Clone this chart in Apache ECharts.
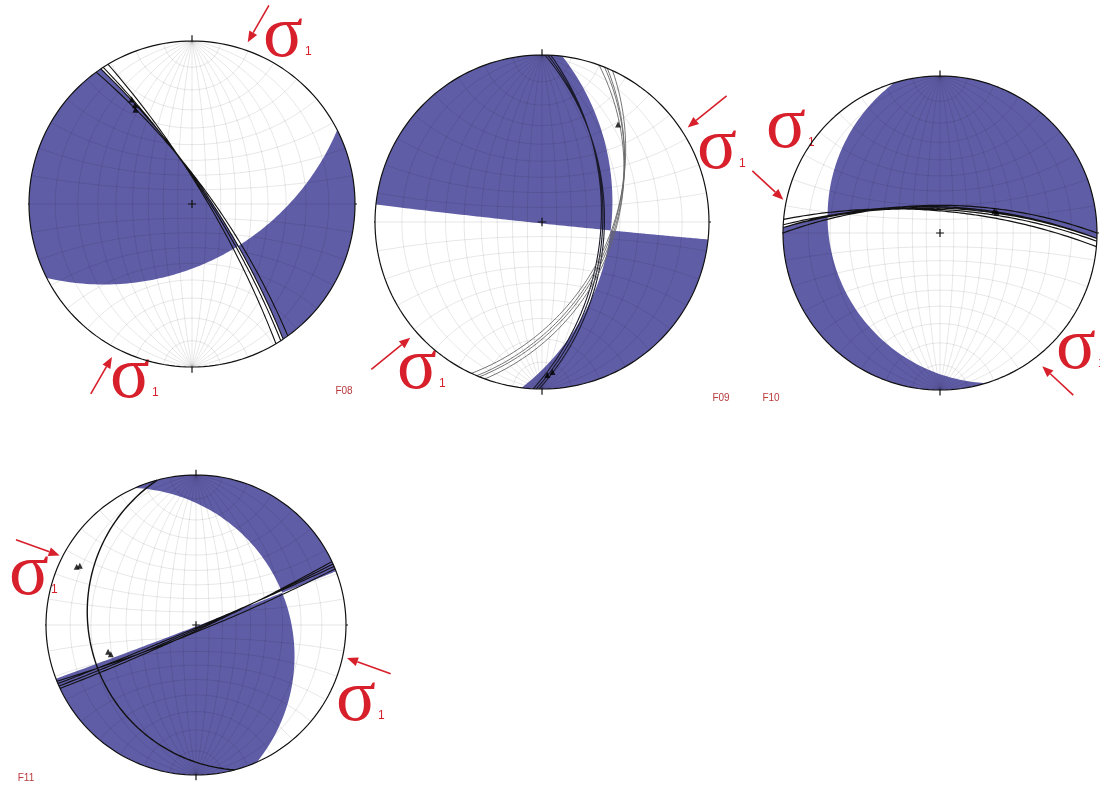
<!DOCTYPE html>
<html>
<head>
<meta charset="UTF-8">
<title>F08 - F11</title>
<script src="https://cdn.jsdelivr.net/npm/echarts/dist/echarts.min.js"></script>
<style>
  body { margin: 0; background: #fff; }
</style>
</head>
<body>
<div id="main" style="width: 1100px; height: 790px;"></div>
<script type="text/javascript">
// ---- data (angles in degrees) ----
var netNames = ['F08', 'F09', 'F10', 'F11'];
// the two planes [dip direction, dip] that bound the shaded dihedra
var nodalPlaneA = [[56, 78], [97, 45], [2, 72], [66, 27]];
var nodalPlaneB = [[153, 50], [186, 89], [253, 20], [159, 89]];
// a line [trend, plunge] that falls inside one shaded dihedron
var shadedProbe = [[270, 20], [315, 20], [0, 10], [45, 10]];
// trend of sigma 1
var sigma1Trend = [30, 51, 313, 290];
// measured fault planes [dip direction, dip]
var faultsF08 = [[54, 77], [56, 78], [57, 79], [59, 80]];
var faultsF09 = [[91, 49], [92, 50], [93, 51]];
var faultsF09b = [[110, 43], [112, 44], [113, 45], [115, 46]];
var faultsF10 = [[0, 70], [2, 71], [2, 72], [3, 73], [5, 74]];
var faultsF11 = [[155, 86], [156, 87], [157, 88], [158, 85]];
var faultsF11b = [[255, 19]];
// striae [trend, plunge]
var striaeF08 = [[330, 17], [330, 20], [329, 22]];
var striaeF09 = [[38, 17], [176, 6], [178, 5]];
var striaeF10 = [[70, 48], [68, 49]];
var striaeF11 = [[251, 28], [253, 27], [296, 7], [297, 8]];

// ---- layout ----
var nets = [
  { cx: 192, cy: 204, r: 163 },
  { cx: 542, cy: 222, r: 167 },
  { cx: 940, cy: 233, r: 157 },
  { cx: 196, cy: 625, r: 150 }
];
var arrowTips = [
  [[19, 1.05], [207.6, 1.06]],
  [[57, 1.04], [228.7, 1.05]],
  [[282, 1.02], [142.5, 1.07]],
  [[297, 1.02], [102.3, 1.03]]
];
var arrowLen = [0.26, 0.3, 0.27, 0.31];
var sigmaPos = [[283, 37], [130, 378], [717, 149], [417, 369], [786, 128], [1076, 349], [29, 575], [356, 701]];
var namePos = [[344, 391], [721, 398], [771, 398], [26, 778]];
var RED = '#d7202b';
var PURPLE = '#605da7';

// ---- spherical helpers ----
function rad(d) { return d * Math.PI / 180; }
function deg(r) { return r * 180 / Math.PI; }
function lineVec(trend, plunge) {
  var t = rad(trend), p = rad(plunge);
  return [Math.cos(p) * Math.sin(t), Math.cos(p) * Math.cos(t), -Math.sin(p)];
}
function dot(a, b) { return a[0] * b[0] + a[1] * b[1] + a[2] * b[2]; }
function cross(a, b) { return [a[1] * b[2] - a[2] * b[1], a[2] * b[0] - a[0] * b[2], a[0] * b[1] - a[1] * b[0]]; }
function unit(a) { var l = Math.sqrt(dot(a, a)); return [a[0] / l, a[1] / l, a[2] / l]; }
function sgn(x) { return x >= 0 ? 1 : -1; }
// lower hemisphere, equal angle (Wulff), unit radius
function project(v) {
  if (v[2] > 0) v = [-v[0], -v[1], -v[2]];
  var k = 1 / (1 - v[2]);
  return [v[0] * k, v[1] * k];
}
function basis(pl) {
  return { s: lineVec(pl[0] - 90, 0), d: lineVec(pl[0], pl[1]), n: lineVec(pl[0] + 180, 90 - pl[1]) };
}
function onPlane(b, t) {
  var c = Math.cos(rad(t)), s = Math.sin(rad(t));
  return [c * b.s[0] + s * b.d[0], c * b.s[1] + s * b.d[1], c * b.s[2] + s * b.d[2]];
}
function greatCircle(pl) {
  var b = basis(pl), pts = [];
  for (var t = 0; t <= 180; t += 2) pts.push(project(onPlane(b, t)));
  return pts;
}
function joinLines(lines) {
  var out = [];
  lines.forEach(function (l, i) {
    if (i) out.push(['-', '-']);
    out = out.concat(l);
  });
  return out;
}
// one shaded dihedron, seen in the lower hemisphere
function lune(pa, pb, sa, sb) {
  var A = basis(pa), B = basis(pb), i, n = 60;
  var P = unit(cross(A.n, B.n));
  if (P[2] > 0) P = [-P[0], -P[1], -P[2]];
  var tA = deg(Math.atan2(dot(P, A.d), dot(P, A.s)));
  var tB = deg(Math.atan2(dot(P, B.d), dot(P, B.s)));
  var endA = sgn(dot(B.n, onPlane(A, tA / 2))) === sb ? 0 : 180;
  var endB = sgn(dot(A.n, onPlane(B, tB / 2))) === sa ? 0 : 180;
  var pts = [];
  for (i = 0; i <= n; i++) pts.push(project(onPlane(A, tA + (endA - tA) * i / n)));
  var vA = onPlane(A, endA), vB = onPlane(B, endB);
  var azA = deg(Math.atan2(vA[0], vA[1])), azB = deg(Math.atan2(vB[0], vB[1]));
  var span = ((azB - azA) % 360 + 360) % 360;
  var mid = lineVec(azA + span / 2, 0);
  if (!(sgn(dot(A.n, mid)) === sa && sgn(dot(B.n, mid)) === sb)) span = span - 360;
  for (i = 1; i < n; i++) pts.push(project(lineVec(azA + span * i / n, 0)));
  for (i = 0; i <= n; i++) pts.push(project(onPlane(B, endB + (tB - endB) * i / n)));
  return pts;
}

// Wulff net: meridians every 10 deg and small circles about the N-S axis
function netLines() {
  var lines = [], a, b, l;
  for (a = 10; a <= 90; a += 10) {
    lines.push(greatCircle([90, a]));
    if (a < 90) lines.push(greatCircle([270, a]));
  }
  for (a = 10; a < 180; a += 10) {
    l = [];
    for (b = 0; b <= 180; b += 3) {
      l.push(project([Math.sin(rad(a)) * Math.cos(rad(b)), Math.cos(rad(a)), -Math.sin(rad(a)) * Math.sin(rad(b))]));
    }
    lines.push(l);
  }
  return joinLines(lines);
}
function frameLines() {
  var c = [], a;
  for (a = 0; a <= 360; a += 2) c.push([Math.sin(rad(a)), Math.cos(rad(a))]);
  var lines = [c];
  [0, 90, 180, 270].forEach(function (az) {
    lines.push([[Math.sin(rad(az)), Math.cos(rad(az))], [1.035 * Math.sin(rad(az)), 1.035 * Math.cos(rad(az))]]);
  });
  lines.push([[-0.025, 0], [0.025, 0]]);
  lines.push([[0, -0.025], [0, 0.025]]);
  return joinLines(lines);
}

var faultSets = [[faultsF08], [faultsF09, faultsF09b], [faultsF10], [faultsF11, faultsF11b]];
var faultColors = [['#111'], ['#1a1a2a', '#666'], ['#111'], ['#111', '#111']];
var faultWidths = [[1.1], [1.1, 0.9], [1.2], [1.1, 1.4]];
var striaeSets = [striaeF08, striaeF09, striaeF10, striaeF11];

var grids = [], xAxes = [], yAxes = [], series = [], graphics = [];
var netData = netLines(), frameData = frameLines();

nets.forEach(function (g, i) {
  grids.push({ left: g.cx - g.r, top: g.cy - g.r, width: 2 * g.r, height: 2 * g.r });
  xAxes.push({ type: 'value', gridIndex: i, min: -1, max: 1, show: false });
  yAxes.push({ type: 'value', gridIndex: i, min: -1, max: 1, show: false });
  var ax = { xAxisIndex: i, yAxisIndex: i };

  series.push(Object.assign({
    type: 'custom', z: 1, silent: true,
    dimensions: ['ddA', 'dipA', 'ddB', 'dipB', 'trend', 'plunge'],
    encode: { x: 0, y: 1 },
    data: [nodalPlaneA[i].concat(nodalPlaneB[i], shadedProbe[i])],
    renderItem: function (params, api) {
      var pa = [api.value(0), api.value(1)], pb = [api.value(2), api.value(3)];
      var probe = lineVec(api.value(4), api.value(5));
      var sa = sgn(dot(basis(pa).n, probe)), sb = sgn(dot(basis(pb).n, probe));
      return {
        type: 'group',
        children: [lune(pa, pb, sa, sb), lune(pa, pb, -sa, -sb)].map(function (pts) {
          return { type: 'polygon', shape: { points: pts.map(function (p) { return api.coord(p); }) }, style: { fill: PURPLE } };
        })
      };
    }
  }, ax));

  series.push(Object.assign({
    type: 'line', z: 2, silent: true, symbol: 'none', clip: false, animation: false,
    data: netData, lineStyle: { color: 'rgba(0,0,0,0.16)', width: 0.6 }
  }, ax));

  faultSets[i].forEach(function (set, k) {
    series.push(Object.assign({
      type: 'line', z: 3, silent: true, symbol: 'none', animation: false,
      data: joinLines(set.map(greatCircle)),
      lineStyle: { color: faultColors[i][k], width: faultWidths[i][k] }
    }, ax));
  });

  series.push(Object.assign({
    type: 'line', z: 4, silent: true, symbol: 'none', clip: false, animation: false,
    data: frameData, lineStyle: { color: '#111', width: 1.2 }
  }, ax));

  series.push(Object.assign({
    type: 'scatter', z: 5, silent: true, symbol: 'triangle', symbolSize: 6,
    itemStyle: { color: '#000' }, animation: false,
    data: striaeSets[i].map(function (s) { return project(lineVec(s[0], s[1])); })
  }, ax));

  // sigma 1 arrows
  var tr = sigma1Trend[i];
  var arrows = arrowTips[i].map(function (tp) {
    var tip = [tp[1] * Math.sin(rad(tp[0])), tp[1] * Math.cos(rad(tp[0]))];
    var u = [Math.sin(rad(tr)), Math.cos(rad(tr))];
    if (u[0] * tip[0] + u[1] * tip[1] > 0) u = [-u[0], -u[1]];
    return [tip[0] - arrowLen[i] * u[0], tip[1] - arrowLen[i] * u[1], tip[0], tip[1]];
  });
  series.push(Object.assign({
    type: 'custom', z: 6, silent: true, clip: false,
    dimensions: ['x1', 'y1', 'x2', 'y2'],
    encode: { x: 0, y: 1 },
    data: arrows,
    renderItem: function (params, api) {
      var a = api.coord([api.value(0), api.value(1)]), b = api.coord([api.value(2), api.value(3)]);
      var dx = b[0] - a[0], dy = b[1] - a[1], l = Math.sqrt(dx * dx + dy * dy);
      var ux = dx / l, uy = dy / l, hl = 11, hw = 4.5;
      var base = [b[0] - ux * hl, b[1] - uy * hl];
      return {
        type: 'group',
        children: [
          { type: 'line', shape: { x1: a[0], y1: a[1], x2: base[0], y2: base[1] }, style: { stroke: RED, lineWidth: 1.6 } },
          { type: 'polygon', shape: { points: [b, [base[0] - uy * hw, base[1] + ux * hw], [base[0] + uy * hw, base[1] - ux * hw]] }, style: { fill: RED } }
        ]
      };
    }
  }, ax));
});

sigmaPos.forEach(function (p) {
  graphics.push({
    type: 'text', x: p[0], y: p[1], silent: true,
    style: { text: 'σ', font: '74px "Liberation Serif"', fill: RED,
      align: 'center', verticalAlign: 'middle', textAlign: 'center', textVerticalAlign: 'middle' }
  });
  graphics.push({
    type: 'text', x: p[0] + 22, y: p[1] + 15, silent: true,
    style: { text: '1', font: '12px "Liberation Sans"', fill: RED,
      align: 'left', verticalAlign: 'middle', textAlign: 'left', textVerticalAlign: 'middle' }
  });
});
netNames.forEach(function (nm, i) {
  graphics.push({
    type: 'text', x: namePos[i][0], y: namePos[i][1], silent: true,
    style: { text: nm, font: '10px "Liberation Sans"', fill: '#b8393c',
      align: 'center', verticalAlign: 'middle', textAlign: 'center', textVerticalAlign: 'middle' }
  });
});

var myChart = echarts.init(document.getElementById('main'));
myChart.setOption({
  animation: false,
  backgroundColor: '#fff',
  grid: grids,
  xAxis: xAxes,
  yAxis: yAxes,
  series: series,
  graphic: graphics
});
</script>
</body>
</html>
